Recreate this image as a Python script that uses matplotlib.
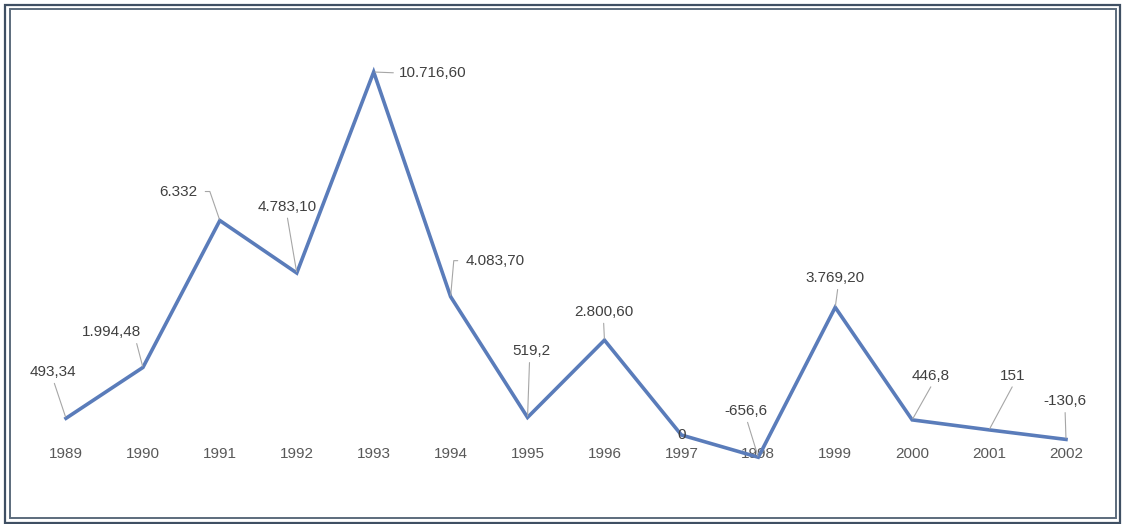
import matplotlib
matplotlib.use('Agg')
import matplotlib.pyplot as plt
from matplotlib.patches import Rectangle

# Data
years = [1989, 1990, 1991, 1992, 1993, 1994, 1995, 1996, 1997, 1998, 1999, 2000, 2001, 2002]
values = [493.34, 1994.48, 6332, 4783.10, 10716.60, 4083.70, 519.2, 2800.60, 0, -656.6,
          3769.20, 446.8, 151, -130.6]
value_labels = ['493,34', '1.994,48', '6.332', '4.783,10', '10.716,60', '4.083,70', '519,2',
                '2.800,60', '0', '-656,6', '3.769,20', '446,8', '151', '-130,6']

# label placement: offset in pixels from the point, leader start on the text box, connection
label_layout = [
    ((-13, 46), (0.5, 0), None),
    ((-31, 35), (0.9, 0), None),
    ((-42, 29), (1, 0.5), 'angle,angleA=0,angleB=109,rad=0'),
    ((-10, 66), (0.5, 0), None),
    ((59, -1), (0, 0.5), None),
    ((45, 36), (0, 0.5), 'angle,angleA=0,angleB=85,rad=0'),
    ((4, 66), (0.45, 0), None),
    ((-1, 28), (0.5, 0), None),
    ((0, 0), None, None),
    ((-12, 46), (0.5, 0), None),
    ((0, 29), (0.55, 0), None),
    ((19, 44), (0.55, 0), None),
    ((24, 54), (0.55, 0), None),
    ((-1, 38), (0.5, 0), None),
]

plt.rcParams['font.family'] = ['Liberation Sans', 'DejaVu Sans']

W, H = 1123, 524
fig = plt.figure(figsize=(W / 100, H / 100), dpi=100)
fig.patch.set_facecolor('white')

# axes placed in pixels so that the line lands where the original has it
ax = fig.add_axes([10 / W, 83 / H, 1103 / W, 431 / H])
ax.set_xlim(1988.272, 2002.611)
ax.set_ylim(-177.1, 12547)
for s in ax.spines.values():
    s.set_visible(False)
ax.set_yticks([])
ax.set_xticks(years)
ax.set_xticklabels([str(y) for y in years])
ax.tick_params(axis='x', length=0, pad=4.5, labelsize=11, labelcolor='#595959')
ax.set_facecolor('none')

ax.plot(years, values, color='#5a7cba', lw=2.6, solid_joinstyle='miter', clip_on=False, zorder=3)

for x, y, txt, (off, rel, conn) in zip(years, values, value_labels, label_layout):
    kw = dict(xy=(x, y), xytext=off, textcoords='offset pixels', ha='center', va='center',
              fontsize=11, color='#404040', zorder=4, annotation_clip=False)
    if rel is not None:
        shrinkA = 4 if conn else 1
        if off == (59, -1):
            shrinkA = 2
        kw['arrowprops'] = dict(arrowstyle='-', color='#a6a6a6', lw=0.8, relpos=rel,
                                shrinkA=shrinkA, shrinkB=1,
                                connectionstyle=conn or 'arc3')
    ax.annotate(txt, **kw)

# double frame around the chart
fig.add_artist(Rectangle((5 / W, 1.5 / H), 1115 / W, 518 / H, transform=fig.transFigure,
                         fill=False, edgecolor='#3f4f63', lw=1.6))
fig.add_artist(Rectangle((10 / W, 6 / H), 1106 / W, 509 / H, transform=fig.transFigure,
                         fill=False, edgecolor='#5c6b7c', lw=1.4))

fig.savefig('out.png', dpi=100)
